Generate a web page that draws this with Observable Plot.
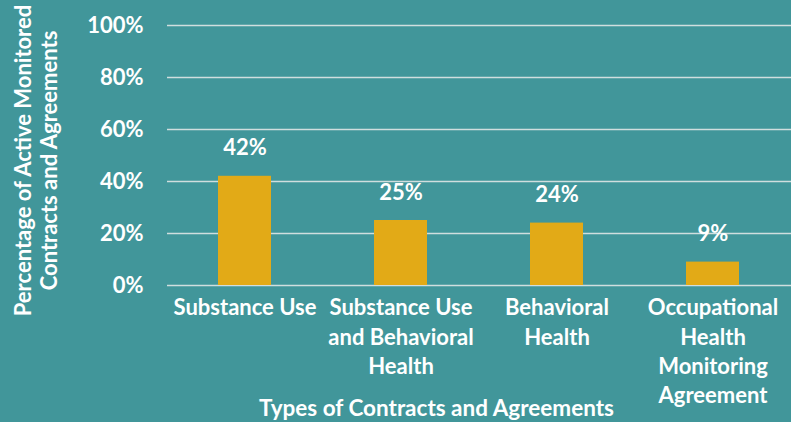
<!DOCTYPE html>
<html><head><meta charset="utf-8">
<script src="https://cdn.jsdelivr.net/npm/d3@7"></script>
<script src="https://cdn.jsdelivr.net/npm/@observablehq/plot@0.6"></script>
<style>
html,body{margin:0;padding:0;background:#41969a;overflow:hidden}
svg{display:block;font-family:Lato,"Open Sans",sans-serif;font-weight:700}
</style></head>
<body><div id="chart"></div>
<script>
const categories = ["Substance Use", "Substance Use and Behavioral Health", "Behavioral Health", "Occupational Health Monitoring Agreement"];
const tickLabels = ["Substance Use", "Substance Use\nand Behavioral\nHealth", "Behavioral\nHealth", "Occupational\nHealth\nMonitoring\nAgreement"];
const values = [42, 25, 24, 9];
const yTicks = [0, 20, 40, 60, 80, 100];
const yTitle = "Percentage of Active Monitored\nContracts and Agreements";
const xTitle = "Types of Contracts and Agreements";

const data = categories.map((c, i) => ({cat: c, value: values[i]}));
const labelOf = new Map(categories.map((c, i) => [c, tickLabels[i]]));
const FS = 22;

const plot = Plot.plot({
  width: 791, height: 422,
  marginLeft: 167, marginRight: 0, marginTop: 25, marginBottom: 137,
  style: {background: "transparent", color: "#fff", fontSize: FS + "px", fontFamily: "Lato, sans-serif", fontWeight: 700},
  x: {domain: categories, paddingInner: 0.66, paddingOuter: 0.33, align: 0.5},
  y: {domain: [0, 100]},
  marks: [
    Plot.gridY(yTicks, {stroke: "#d0dede", strokeOpacity: 1, strokeWidth: 1.5}),
    Plot.axisY(yTicks, {tickSize: 0, tickPadding: 24, tickFormat: d => d + "%", label: null, fontSize: FS, fill: "#fff"}),
    Plot.axisX({tickSize: 0, tickPadding: 9, tickFormat: d => labelOf.get(d), label: null, fontSize: FS, lineHeight: 1.33, fill: "#fff", lineAnchor: "top"}),
    Plot.barY(data, {x: "cat", y: "value", fill: "#e2aa17"}),
    Plot.text(data, {x: "cat", y: "value", text: d => d.value + "%", dy: -28, fill: "#fff", fontSize: FS, fontWeight: 700}),
    Plot.text([xTitle], {frameAnchor: "bottom", dx: -43, dy: 130, text: d => d, fill: "#fff", fontSize: 22.5, fontWeight: 700}),
    Plot.text([yTitle], {frameAnchor: "left", rotate: -90, textAnchor: "middle", dx: -132, dy: 5, text: d => d, fill: "#fff", fontSize: FS, fontWeight: 700, lineHeight: 1.18})
  ]
});
document.getElementById("chart").appendChild(plot);
</script></body></html>
